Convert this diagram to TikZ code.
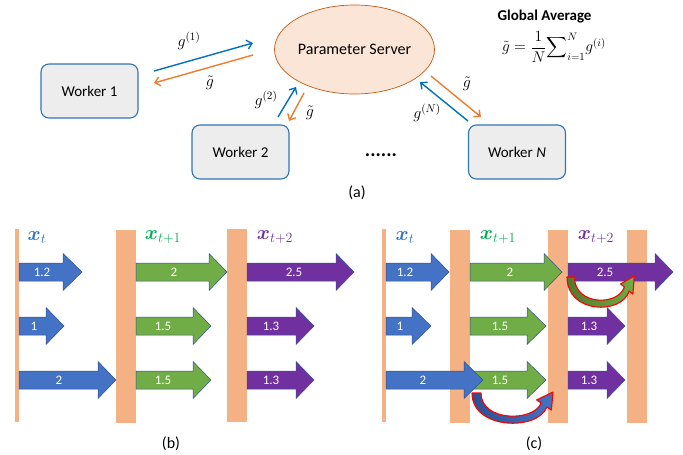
\RequirePackage{fix-cm}
\documentclass[tikz,border=0pt]{standalone}
\usepackage{amsmath}
\usepackage{fontspec}
\setmainfont{Carlito}
\usetikzlibrary{arrows.meta,shapes.geometric}
\definecolor{barc}{HTML}{F4B183}
\definecolor{bluea}{HTML}{4472C4}
\definecolor{blued}{HTML}{2F4F8F}
\definecolor{greena}{HTML}{70AD47}
\definecolor{greend}{HTML}{4E7A2E}
\definecolor{purpa}{HTML}{7030A0}
\definecolor{edgec}{HTML}{2F528F}
\definecolor{linkblue}{HTML}{0070C0}
\definecolor{linkorange}{HTML}{ED7D31}
\definecolor{boxfill}{HTML}{EDEDED}
\definecolor{boxedge}{HTML}{2E75B6}
\definecolor{psfill}{HTML}{FBE5D6}
\definecolor{psedge}{HTML}{C55A11}
\definecolor{xblue}{HTML}{2E75B6}
\definecolor{xgreen}{HTML}{00B050}
\newcommand\blkarrow[7]{%
  \path[blockarr, fill=#5] (#1,#4-9) -- (#2,#4-9) -- (#2,#4-18.5) -- (#3,#4) -- (#2,#4+18.5) -- (#2,#4+9) -- (#1,#4+9) -- cycle;
  \node[arrlabel] (l#5#1#4) at (#7,#4) {#6};%
}
\newcommand\curvband[2]{%
  \path[curvarr, left color=#1, right color=#2] (0,0) .. controls (0,37) and (66,38) .. (74.9,14) -- (79.4,17.1) -- (81,-1) -- (64.6,6.9) -- (69.1,10) .. controls (62,29) and (9,29) .. (9,0) -- cycle;%
}
\begin{document}
\begin{tikzpicture}[x=1pt,y=-1pt,
  worker/.style={draw=boxedge, line width=1.1pt, fill=boxfill, rounded corners=8pt, minimum width=97pt, minimum height=54pt, inner sep=0pt, font=\fontsize{15}{17}\selectfont},
  server/.style={ellipse, draw=psedge, line width=0.7pt, fill=psfill, minimum width=153pt, minimum height=89pt, inner sep=0pt, font=\fontsize{16}{18}\selectfont},
  uplink/.style={draw=linkblue, line width=1.4pt, -{Straight Barb[length=5pt,width=9pt]}},
  downlink/.style={draw=linkorange, line width=1.4pt, -{Straight Barb[length=5pt,width=9pt]}},
  mlabel/.style={inner sep=0pt, font=\fontsize{16}{18}\selectfont},
  caption/.style={inner sep=0pt, font=\fontsize{16}{18}\selectfont},
  barthin/.style={fill=barc, draw=none},
  blockarr/.style={draw=edgec, line width=0.5pt},
  arrlabel/.style={inner sep=0pt, text=white, font=\fontsize{13}{15}\selectfont},
  curvarr/.style={draw=red, line width=1.1pt, line join=round},
  xlab/.style={inner sep=0pt, font=\fontsize{20}{22}\selectfont}
]
\useasboundingbox (0,0) rectangle (683,455);

% ---------------- (a) ----------------
\node[server] (ps) at (354.5,49.5) {Parameter Server};
\node[worker] (w1) at (89.5,91) {Worker 1};
\node[worker] (w2) at (240.5,152) {Worker 2};
\node[worker] (wn) at (517,152) {Worker \textit{N}};

\coordinate (a1s) at (154,71);  \coordinate (a1e) at (253,43);
\coordinate (b1s) at (253,55);  \coordinate (b1e) at (154,83);
\coordinate (a2s) at (278,117); \coordinate (a2e) at (296,87);
\coordinate (b2s) at (304,93);  \coordinate (b2e) at (289,121);
\coordinate (ans) at (468,121); \coordinate (ane) at (420,82);
\coordinate (bns) at (431,76);  \coordinate (bne) at (481,117);
\draw[uplink] (a1s) -- (a1e);
\draw[downlink] (b1s) -- (b1e);
\draw[uplink] (a2s) -- (a2e);
\draw[downlink] (b2s) -- (b2e);
\draw[uplink] (ans) -- (ane);
\draw[downlink] (bns) -- (bne);

\node[mlabel] (lg1) at (189,41) {$g^{(1)}$};
\node[mlabel] (lt1) at (210,83) {$\tilde{g}$};
\node[mlabel] (lg2) at (266,99.5) {$g^{(2)}$};
\node[mlabel] (lt2) at (310,113) {$\tilde{g}$};
\node[mlabel] (lgn) at (427,113) {$g^{(N)}$};
\node[mlabel] (ltn) at (467,84) {$\tilde{g}$};

\node[inner sep=0pt, anchor=base, font=\bfseries\fontsize{20}{22}\selectfont] (dots) at (381,156) {......};
\node[caption] (capa) at (357,193) {(a)};

\node[inner sep=0pt, font=\bfseries\fontsize{15}{17}\selectfont] (ga) at (544.5,17) {Global Average};
\node[inner sep=0pt, font=\fontsize{15.5}{17}\selectfont] (eq) at (554,47) {$\tilde{g} = \dfrac{1}{N}{\displaystyle\sum\nolimits_{i=1}^{N}} g^{(i)}$};

% ---------------- (b) ----------------
\path[barthin] (15,229) rectangle (19,422);
\path[barthin] (116,230) rectangle (136,423);
\path[barthin] (227,229) rectangle (247,422);

\node[xlab, text=xblue] (bxt) at (37,238) {$\boldsymbol{x}_{t}$};
\node[xlab, text=xgreen] (bxt1) at (163,237) {$\boldsymbol{x}_{t+1}$};
\node[xlab, text=purpa] (bxt2) at (275,237) {$\boldsymbol{x}_{t+2}$};

\blkarrow{19}{63}{82}{272}{bluea}{1.2}{42}
\blkarrow{136}{209}{227}{272}{greena}{2}{174}
\blkarrow{247}{336}{354}{272}{purpa}{2.5}{294}
\blkarrow{19}{46}{64}{326}{bluea}{1}{34}
\blkarrow{136}{193}{211}{326}{greena}{1.5}{163}
\blkarrow{247}{296}{314}{326}{purpa}{1.3}{271}
\blkarrow{19}{98}{116}{380}{bluea}{2}{59}
\blkarrow{136}{193}{211}{380}{greena}{1.5}{163}
\blkarrow{247}{296}{314}{380}{purpa}{1.3}{271}

\node[caption] (capb) at (171,444) {(b)};

% ---------------- (c) ----------------
\path[barthin] (382,229) rectangle (386,422);
\path[barthin] (450,230) rectangle (470,423);
\path[barthin] (548,230) rectangle (568,423);
\path[barthin] (627,230) rectangle (647,423);

\node[xlab, text=xblue] (cxt) at (405,238) {$\boldsymbol{x}_{t}$};
\node[xlab, text=xgreen] (cxt1) at (498,237) {$\boldsymbol{x}_{t+1}$};
\node[xlab, text=purpa] (cxt2) at (596,237) {$\boldsymbol{x}_{t+2}$};

\blkarrow{386}{431}{449}{272}{bluea}{1.2}{405}
\blkarrow{470}{544}{562}{272}{greena}{2}{510}
\blkarrow{568}{655}{673}{272}{purpa}{2.5}{605}
\blkarrow{386}{412}{431}{326}{bluea}{1}{400}
\blkarrow{470}{527}{546}{326}{greena}{1.5}{500}
\blkarrow{568}{607}{625}{326}{purpa}{1.3}{589}
\blkarrow{470}{527}{546}{380}{greena}{1.5}{500}
\blkarrow{386}{464}{483}{380}{bluea}{2}{423}
\blkarrow{568}{607}{625}{380}{purpa}{1.3}{589}

\begin{scope}[shift={(472,393)}]
  \curvband{blued}{bluea}
\end{scope}
\begin{scope}[shift={(567,277)}, xscale=0.83]
  \curvband{greend}{greena}
\end{scope}

\node[caption] (capc) at (534,444) {(c)};
\end{tikzpicture}
\end{document}
